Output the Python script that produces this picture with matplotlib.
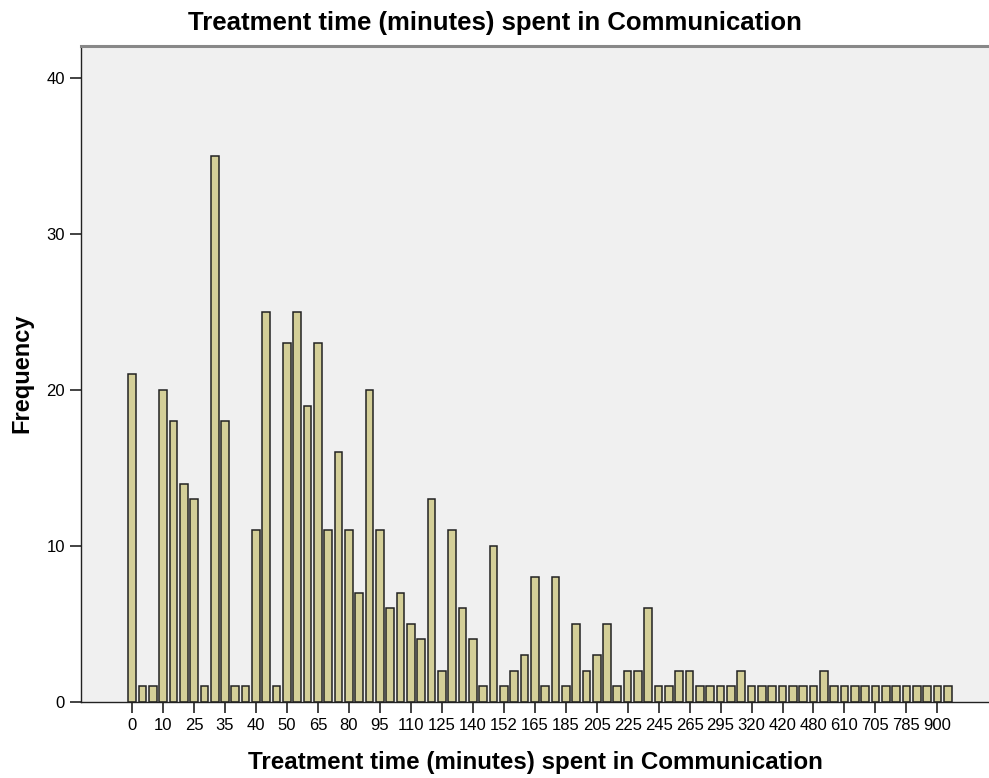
import numpy as np
import matplotlib
matplotlib.use('Agg')
import matplotlib.pyplot as plt

plt.rcParams['font.family'] = ['Liberation Sans', 'DejaVu Sans']

# frequency of each treatment-time category (80 categories, left to right)
freq = [21, 1, 1, 20, 18, 14, 13, 1, 35, 18,
        1, 1, 11, 25, 1, 23, 25, 19, 23, 11,
        16, 11, 7, 20, 11, 6, 7, 5, 4, 13,
        2, 11, 6, 4, 1, 10, 1, 2, 3, 8,
        1, 8, 1, 5, 2, 3, 5, 1, 2, 2,
        6, 1, 1, 2, 2, 1, 1, 1, 1, 2,
        1, 1, 1, 1, 1, 1, 1, 2, 1, 1,
        1, 1, 1, 1, 1, 1, 1, 1, 1, 1]

# only every third category is labelled on the axis
tick_labels = ['0', '10', '25', '35', '40', '50', '65', '80', '95', '110',
               '125', '140', '152', '165', '185', '205', '225', '245', '265',
               '295', '320', '420', '480', '610', '705', '785', '900']

title = 'Treatment time (minutes) spent in Communication'

fig = plt.figure(figsize=(9.89, 7.78), dpi=100)
ax = fig.add_axes([0.0824, 0.0981, 0.9176, 0.8432])
ax.set_facecolor('#f0f0f0')

x = np.arange(len(freq))
ax.bar(x, freq, width=0.745, color='#d4cf98', edgecolor='#222222', linewidth=1.1)

ax.set_xlim(-4.9, 83)
ax.set_ylim(0, 42.1)
ax.set_yticks([0, 10, 20, 30, 40])
ax.set_xticks(x[::3])
ax.set_xticklabels(tick_labels)
ax.tick_params(axis='both', direction='out', length=8, width=1.2,
               labelsize=12, color='#222222')
ax.tick_params(axis='x', pad=4)
ax.tick_params(axis='y', pad=4)

for s in ['left', 'bottom']:
    ax.spines[s].set_color('#222222')
    ax.spines[s].set_linewidth(1.0)
ax.spines['top'].set_color('#888888')
ax.spines['top'].set_linewidth(2.2)
ax.spines['right'].set_visible(False)

fig.text(0.5, 0.970, title, fontsize=18.5, fontweight='bold',
         ha='center', va='center')
ax.set_xlabel(title, fontsize=17.4, fontweight='bold', va='center')
ax.xaxis.set_label_coords(0.5, -0.0934)
ax.set_ylabel('Frequency', fontsize=17, fontweight='bold', va='center')
ax.yaxis.set_label_coords(-0.0656, 0.5)

fig.savefig('out.png', dpi=100)
